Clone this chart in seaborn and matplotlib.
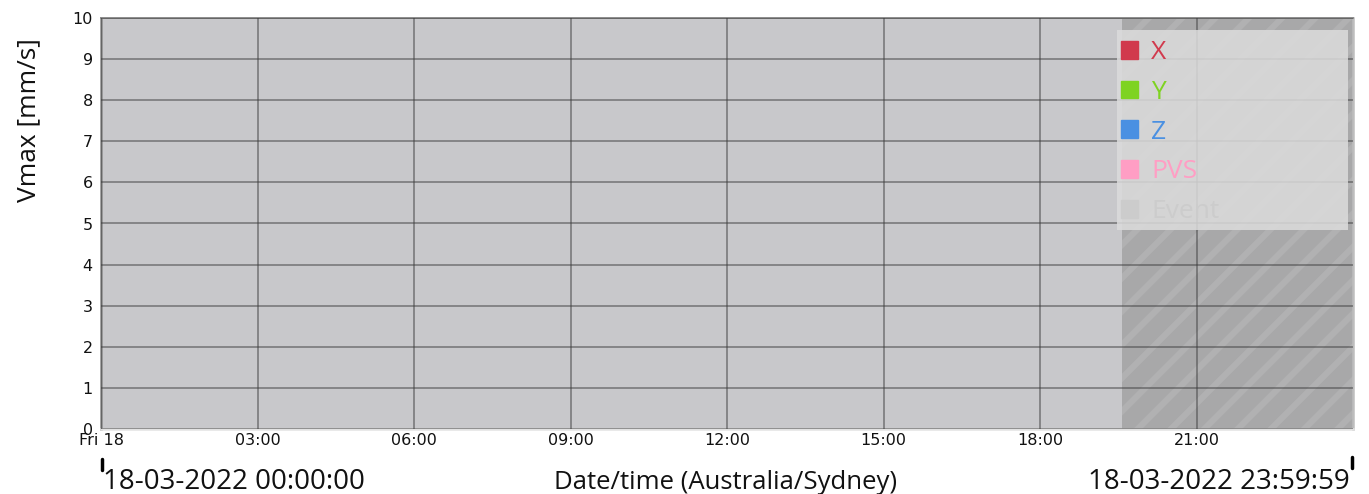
import numpy as np
import pandas as pd
import matplotlib
matplotlib.use("Agg")
import matplotlib.pyplot as plt
import matplotlib.dates as mdates
from matplotlib.patches import Rectangle
import seaborn as sns

# ---- data ----
series_names = ["X", "Y", "Z", "PVS"]
series_colors = ["#d13a4d", "#7ed321", "#4a90e2", "#ff9ec4"]
event_label = "Event"
event_color = "#cccccc"
times = []            # no samples recorded in the window
values = []
event_start = "2022-03-18 19:34:00"
event_end = "2022-03-18 23:59:59"
x_start = "2022-03-18 00:00:00"
x_end = "2022-03-18 23:59:59"
y_ticks = [0, 1, 2, 3, 4, 5, 6, 7, 8, 9, 10]
x_tick_labels = ["Fri 18", "03:00", "06:00", "09:00", "12:00", "15:00", "18:00", "21:00"]

sns.set_theme(style="white")
plt.rcParams["font.family"] = ["DejaVu Sans"]
plt.rcParams["hatch.linewidth"] = 4.5

W, H = 1369, 494
fig = plt.figure(figsize=(W / 100, H / 100), dpi=100)
ax = fig.add_axes([101 / W, (H - 429) / H, 1252 / W, 411 / H])
ax.set_facecolor("#c8c8cb")

t0 = pd.Timestamp(x_start)
t1 = pd.Timestamp(x_end)

for name, col in zip(series_names, series_colors):
    df = pd.DataFrame({"t": pd.to_datetime(pd.Series(times, dtype="object")),
                       "v": pd.Series(values, dtype=float)})
    sns.lineplot(data=df, x="t", y="v", ax=ax, color=col, legend=False)

# event span with hatching
es = mdates.date2num(pd.Timestamp(event_start))
ee = mdates.date2num(pd.Timestamp(event_end))
ax.axvspan(es, ee, facecolor="#a8a8a9", edgecolor="#b1b1b2", hatch="/", linewidth=0, zorder=0.5)

ax.set_xlim(mdates.date2num(t0), mdates.date2num(t1))
ax.set_ylim(0, 10)
ax.set_yticks(y_ticks)
ax.set_yticklabels([str(v) for v in y_ticks], fontsize=11.5)
xt = [mdates.date2num(t0 + pd.Timedelta(hours=3 * i)) for i in range(len(x_tick_labels))]
ax.set_xticks(xt)
ax.set_xticklabels(x_tick_labels, fontsize=11.5)
ax.tick_params(axis="y", length=0, pad=6)
ax.tick_params(axis="x", length=0, pad=3)
for lab in ax.get_yticklabels() + ax.get_xticklabels():
    lab.set_color("#111111")
ax.grid(True, color="#3a3a3a", alpha=0.55, linewidth=1.2, zorder=1)
ax.set_axisbelow(False)
ax.spines["left"].set_color("#8a8a8a")
ax.spines["left"].set_linewidth(1.8)
ax.spines["top"].set_color("#8c8c8c")
ax.spines["top"].set_linewidth(1.4)
ax.spines["bottom"].set_color("#e2e2e2")
ax.spines["bottom"].set_linewidth(1.8)
ax.spines["right"].set_color("#bdbdbd")
ax.spines["right"].set_linewidth(1.8)

ax.set_ylabel("Vmax [mm/s]", fontsize=19, family=["Open Sans", "DejaVu Sans"], color="#111111")
ax.yaxis.set_label_coords((41 - 101) / 1252, (429 - 120) / 411)
ax.set_xlabel("")

# legend panel
ax.add_patch(Rectangle(((1117 - 101) / 1252, (429 - 230) / 411), 231 / 1252, 200 / 411,
                       transform=ax.transAxes, facecolor="#dcdcdc", alpha=0.85,
                       edgecolor="none", zorder=3))
handles = [Rectangle((0, 0), 1, 1, color=c) for c in series_colors + [event_color]]
labels = series_names + [event_label]
leg = ax.legend(handles, labels, loc="upper left",
                bbox_to_anchor=((1121 - 101) / 1252, (429 - 40) / 411),
                frameon=False, handlelength=0.65, handleheight=0.65,
                handletextpad=0.5, labelspacing=0.56, borderpad=0.0, borderaxespad=0,
                prop={"family": ["Open Sans", "DejaVu Sans"], "size": 19})
leg.set_zorder(4)
for txt, c in zip(leg.get_texts(), series_colors + [event_color]):
    txt.set_color(c)

# bottom labels
ty = 1 - 482 / H
fig.text(103 / W, ty, "18-03-2022 00:00:00", fontsize=20, ha="left", va="center",
         family=["Open Sans", "DejaVu Sans"], color="#111111")
fig.text(726 / W, ty, "Date/time (Australia/Sydney)", fontsize=18.5, ha="center", va="center",
         family=["Open Sans", "DejaVu Sans"], color="#111111")
fig.text(1350 / W, ty, "18-03-2022 23:59:59", fontsize=20, ha="right", va="center",
         family=["Open Sans", "DejaVu Sans"], color="#111111")
fig.add_artist(plt.Line2D([102 / W, 102 / W], [1 - 470 / H, 1 - 459 / H], color="black", linewidth=2.5))
fig.add_artist(plt.Line2D([1352 / W, 1352 / W], [1 - 468 / H, 1 - 457 / H], color="black", linewidth=2.5))

fig.savefig("out.png", dpi=100)
